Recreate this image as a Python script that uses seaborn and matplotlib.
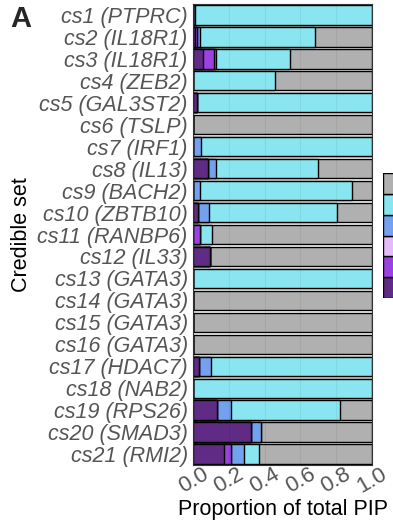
import numpy as np
import pandas as pd
import matplotlib
matplotlib.use("Agg")
import matplotlib.pyplot as plt
import seaborn as sns

# ---- data ----
credible_sets = ["cs1 (PTPRC)", "cs2 (IL18R1)", "cs3 (IL18R1)", "cs4 (ZEB2)", "cs5 (GAL3ST2)",
                 "cs6 (TSLP)", "cs7 (IRF1)", "cs8 (IL13)", "cs9 (BACH2)", "cs10 (ZBTB10)",
                 "cs11 (RANBP6)", "cs12 (IL33)", "cs13 (GATA3)", "cs14 (GATA3)", "cs15 (GATA3)",
                 "cs16 (GATA3)", "cs17 (HDAC7)", "cs18 (NAB2)", "cs19 (RPS26)", "cs20 (SMAD3)",
                 "cs21 (RMI2)"]
dark_purple = [0, 0.012, 0.056, 0, 0.022, 0, 0, 0.082, 0, 0.026, 0, 0.093, 0, 0, 0, 0, 0.034, 0, 0.135, 0.321, 0.170]
purple      = [0, 0.010, 0.062, 0, 0, 0, 0, 0, 0, 0, 0.035, 0, 0, 0, 0, 0, 0, 0, 0, 0, 0.043]
lavender    = [0, 0, 0, 0, 0, 0, 0, 0, 0, 0, 0, 0, 0, 0, 0, 0, 0, 0, 0, 0, 0]
blue        = [0.010, 0.015, 0.008, 0, 0, 0, 0.043, 0.047, 0.035, 0.062, 0, 0, 0, 0, 0, 0, 0.067, 0, 0.078, 0.058, 0.073]
cyan        = [0.990, 0.645, 0.415, 0.456, 0.978, 0, 0.957, 0.572, 0.856, 0.716, 0.071, 0, 1.0, 0, 0, 0, 0.899, 1.0, 0.611, 0, 0.080]
grey        = [0, 0.318, 0.459, 0.544, 0, 1.0, 0, 0.299, 0.109, 0.196, 0.894, 0.907, 0, 1.0, 1.0, 1.0, 0, 0, 0.176, 0.621, 0.634]
x_ticks = [0.0, 0.2, 0.4, 0.6, 0.8, 1.0]

series = [dark_purple, purple, lavender, blue, cyan, grey]
colors = ["#5f2b85", "#9c42e0", "#e4baf9", "#74a1ee", "#89e6f0", "#b0b0b0"]

sns.set_theme(style="white")
plt.rcParams["font.family"] = ["Liberation Sans", "DejaVu Sans"]

fig = plt.figure(figsize=(3.93, 5.27), dpi=100)
ax = fig.add_axes([193.3 / 393, 1 - 465 / 527, 178.4 / 393, 461 / 527])

cum = np.cumsum(np.array(series, dtype=float), axis=0)
# draw from the full stack downward so each segment overlays the previous
for i in range(len(series) - 1, -1, -1):
    df = pd.DataFrame({"set": credible_sets, "value": cum[i]})
    sns.barplot(data=df, x="value", y="set", orient="h", color=colors[i],
                saturation=1, edgecolor="black", linewidth=1.0, width=0.88, ax=ax)

ax.set_xlim(0, 1)
ax.set_ylim(len(credible_sets) - 0.5, -0.5)
ax.set_xticks(x_ticks)
ax.set_xticklabels([f"{t:.1f}" for t in x_ticks], rotation=30, ha="center",
                   fontsize=16, color="#555555")
ax.set_yticklabels(credible_sets, fontsize=15.5, color="#555555", style="italic")
ax.tick_params(axis="both", length=3, width=0.8, color="#555555")
ax.tick_params(axis="y", pad=1)
ax.tick_params(axis="x", pad=-4)
ax.set_xlabel("Proportion of total PIP", fontsize=15.5, color="black", labelpad=1)
ax.set_ylabel("Credible set", fontsize=15.5, color="black", labelpad=4)
for s in ax.spines.values():
    s.set_color("#333333")
    s.set_linewidth(0.8)
ax.grid(axis="x", color="black", alpha=0.06, lw=0.8)
ax.set_axisbelow(False)

# legend as stacked swatches
lax = fig.add_axes([383 / 393, 1 - 298 / 527, 14 / 393, 125 / 527])
for i, c in enumerate(colors):
    lax.bar(0, 1, bottom=i, color=c, edgecolor="black", linewidth=1.0, width=1)
lax.set_xlim(-0.5, 0.5)
lax.set_ylim(0, len(colors))
lax.axis("off")

fig.text(10 / 393, 1 - 5 / 527, "A", fontsize=21, fontweight="bold", va="top", ha="left")

fig.savefig("out.png", dpi=100)
